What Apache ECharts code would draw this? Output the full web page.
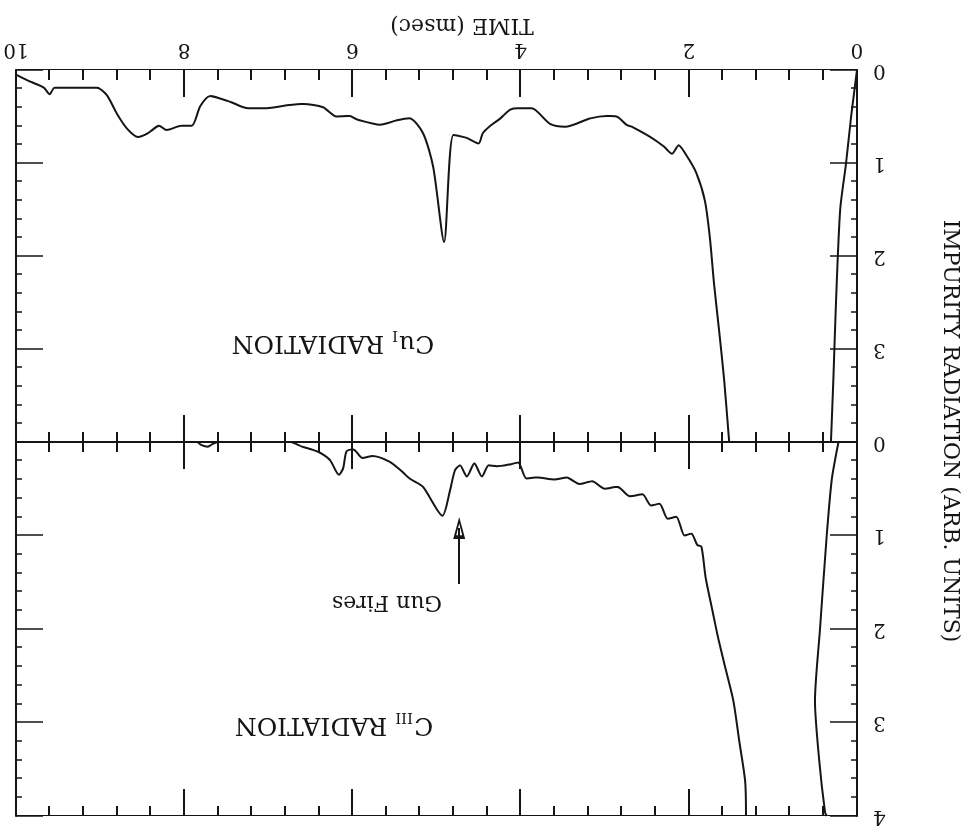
<!DOCTYPE html>
<html>
<head>
<meta charset="utf-8">
<script src="https://cdn.jsdelivr.net/npm/echarts@6/dist/echarts.min.js"></script>
<style>
  html, body { margin: 0; padding: 0; background: #fff; }
  /* the scanned figure is printed upside down, so the whole chart is turned 180deg */
  #chart { width: 971px; height: 826px; transform: rotate(180deg); }
</style>
</head>
<body>
<div id="chart"></div>
<script>
// Cu I radiation, main trace (time in msec, arb. units)
var cuTime = [10, 9.83, 9.67, 9.6, 9.54, 9.04, 8.92, 8.8, 8.68, 8.55, 8.43, 8.3, 8.21, 8.03, 7.91,
  7.81, 7.69, 7.46, 7.24, 7.02, 6.78, 6.58, 6.35, 6.19, 6.03, 5.95, 5.67, 5.47, 5.32, 5.16,
  5.04, 4.91, 4.8, 4.64, 4.5, 4.45, 4.36, 4.24, 4.13, 4.03, 3.87, 3.65, 3.47, 3.17, 2.98,
  2.86, 2.74, 2.68, 2.46, 2.3, 2.2, 2.12, 2.02, 1.91, 1.81, 1.75, 1.7, 1.64, 1.58, 1.52];
var cuValue = [0.05, 0.125, 0.19, 0.26, 0.19, 0.19, 0.27, 0.47, 0.63, 0.72, 0.68, 0.6, 0.645, 0.6, 0.6,
  0.39, 0.28, 0.34, 0.41, 0.41, 0.38, 0.365, 0.4, 0.5, 0.495, 0.53, 0.59, 0.54, 0.52, 0.68,
  1.04, 1.85, 0.7, 0.73, 0.79, 0.68, 0.6, 0.52, 0.43, 0.41, 0.41, 0.58, 0.61, 0.52, 0.495,
  0.5, 0.59, 0.61, 0.72, 0.82, 0.9, 0.81, 0.93, 1.11, 1.4, 1.8, 2.3, 2.8, 3.33, 4.0];
// Cu I, second trace near t=0
var cuBaseTime = [0, 0.07, 0.13, 0.2, 0.25, 0.28, 0.31];
var cuBaseValue = [0, 0.5, 1, 1.5, 2.5, 3.3, 4];

// C III radiation, main trace
var c3Time = [10, 7.85, 7.8, 7.72, 7.66, 7.6, 6.74, 6.6, 6.42, 6.27, 6.16, 6.11, 6.07, 5.99, 5.88,
  5.76, 5.56, 5.43, 5.32, 5.16, 4.93, 4.84, 4.78, 4.72, 4.64, 4.55, 4.46, 4.38, 4.28, 4.13,
  4.03, 3.93, 3.8, 3.6, 3.45, 3.3, 3.15, 3.0, 2.85, 2.7, 2.55, 2.45, 2.35, 2.25, 2.15,
  2.05, 1.97, 1.9, 1.85, 1.8, 1.72, 1.65, 1.57, 1.47, 1.4, 1.33, 1.32];
var c3Value = [0, 0, 0.03, 0.05, 0.02, 0, 0, 0.05, 0.1, 0.19, 0.35, 0.28, 0.1, 0.08, 0.17,
  0.15, 0.21, 0.3, 0.39, 0.48, 0.79, 0.52, 0.3, 0.25, 0.37, 0.23, 0.37, 0.25, 0.26, 0.24,
  0.22, 0.39, 0.38, 0.4, 0.38, 0.45, 0.42, 0.5, 0.48, 0.58, 0.56, 0.68, 0.66, 0.82, 0.8,
  1.0, 0.98, 1.1, 1.12, 1.45, 1.8, 2.1, 2.4, 2.77, 3.2, 3.63, 4.0];
// C III, second trace near t=0
var c3BaseTime = [0.22, 0.3, 0.36, 0.44, 0.5, 0.45, 0.38, 0.36];
var c3BaseValue = [0, 0.4, 1.0, 2.0, 2.77, 3.4, 3.96, 4.0];

// "Gun Fires" arrow, time and C III levels of tail and head
var gunTime = 4.73;
var gunArrow = [1.52, 0.92];

var ink = '#151515';
var serif = 'DejaVu Serif';

function pairs(xs, ys) {
	var out = [];
	for (var i = 0; i < xs.length; i++) {
		out.push([xs[i], ys[i]]);
	}
	return out;
}

function timeAxis(grid, pos, showLabel, lineWidth, lineType) {
	return {
		type: 'value',
		gridIndex: grid,
		position: pos,
		min: 0,
		max: 10,
		interval: 2,
		axisLine: { show: true, onZero: false, lineStyle: { color: ink, width: lineWidth, type: lineType } },
		axisTick: { show: true, inside: true, length: 27, lineStyle: { color: ink, width: 2 } },
		minorTick: { show: true, splitNumber: 5, length: 10, lineStyle: { color: ink, width: 2 } },
		axisLabel: { show: showLabel, margin: 11, color: ink, fontFamily: serif, fontSize: 20 },
		splitLine: { show: false }
	};
}

function valueAxis(grid, pos, showLabel, showMax) {
	return {
		type: 'value',
		gridIndex: grid,
		position: pos,
		min: 0,
		max: 4,
		interval: 1,
		axisLine: { show: true, onZero: false, lineStyle: { color: ink, width: 2 } },
		axisTick: { show: true, inside: true, length: 27, lineStyle: { color: ink, width: 1.5 } },
		minorTick: { show: true, splitNumber: 5, length: 6, lineStyle: { color: ink, width: 1.5 } },
		axisLabel: { show: showLabel, showMaxLabel: showMax, margin: 16, color: ink, fontFamily: serif, fontSize: 20 },
		splitLine: { show: false }
	};
}

function trace(xi, yi, data) {
	return {
		type: 'line',
		xAxisIndex: xi,
		yAxisIndex: yi,
		data: data,
		symbol: 'none',
		smooth: 0.25,
		silent: true,
		lineStyle: { color: ink, width: 2 }
	};
}

var myChart = echarts.init(document.getElementById('chart'));

var c3Series = trace(0, 0, pairs(c3Time, c3Value));
c3Series.markLine = {
	silent: true,
	symbol: ['none', 'path://M0,0 L10,24 L-10,24 Z M0,7 L-5,20 L5,20 Z'],
	symbolSize: [12, 22],
	label: { show: false },
	lineStyle: { color: ink, width: 2, type: 'solid' },
	data: [[{ coord: [gunTime, gunArrow[0]] }, { coord: [gunTime, gunArrow[1]] }]]
};

var option = {
	animation: false,
	backgroundColor: '#fff',
	grid: [
		{ left: 114, right: 16, top: 10, height: 374 },
		{ left: 114, right: 16, top: 384, height: 372 }
	],
	xAxis: [
		timeAxis(0, 'bottom', false, 2, 'solid'),
		timeAxis(0, 'top', false, 1.2, 'solid'),
		timeAxis(1, 'top', false, 2, 'solid'),
		timeAxis(1, 'bottom', true, 1.2, 'solid')
	],
	yAxis: [
		valueAxis(0, 'left', true, true),
		valueAxis(0, 'right', false, true),
		valueAxis(1, 'left', true, false),
		valueAxis(1, 'right', false, true)
	],
	series: [
		c3Series,
		trace(0, 0, pairs(c3BaseTime, c3BaseValue)),
		trace(3, 2, pairs(cuTime, cuValue)),
		trace(3, 2, pairs(cuBaseTime, cuBaseValue))
	],
	graphic: [
		{
			type: 'text', x: 509, y: 801,
			style: { text: 'TIME (msec)', fill: ink, font: '22px "DejaVu Serif"', align: 'center', verticalAlign: 'middle' }
		},
		{
			type: 'text', x: 21, y: 395, rotation: Math.PI / 2,
			style: { text: 'IMPURITY RADIATION (ARB. UNITS)', fill: ink, font: '22px "DejaVu Serif"', align: 'center', verticalAlign: 'middle' }
		},
		{
			type: 'text', x: 638, y: 483,
			style: {
				text: '{m|Cu}{s|I}{m| RADIATION}', align: 'center', verticalAlign: 'middle',
				rich: {
					m: { fill: ink, fontFamily: serif, fontSize: 25 },
					s: { fill: ink, fontFamily: serif, fontSize: 15, padding: [16, 0, 0, 1] }
				}
			}
		},
		{
			type: 'text', x: 637, y: 101,
			style: {
				text: '{m|C}{s|III}{m| RADIATION}', align: 'center', verticalAlign: 'middle',
				rich: {
					m: { fill: ink, fontFamily: serif, fontSize: 25 },
					s: { fill: ink, fontFamily: serif, fontSize: 15, padding: [16, 0, 0, 1] }
				}
			}
		},
		{
			type: 'text', x: 584, y: 224,
			style: { text: 'Gun Fires', fill: ink, font: '22px "DejaVu Serif"', align: 'center', verticalAlign: 'middle' }
		}
	]
};

myChart.setOption(option);
</script>
</body>
</html>
